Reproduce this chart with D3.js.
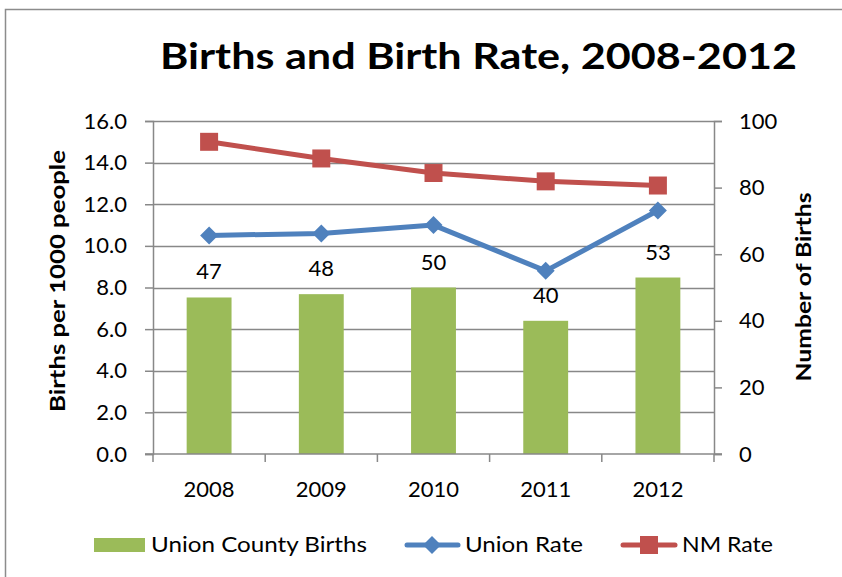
<!DOCTYPE html>
<html>
<head>
<meta charset="utf-8">
<script src="https://cdn.jsdelivr.net/npm/d3@7"></script>
<style>
  body { margin: 0; background: #fff; }
  svg { font-family: Lato, "Open Sans", sans-serif; }
</style>
</head>
<body>
<div id="chart"></div>
<script>
const years = ["2008", "2009", "2010", "2011", "2012"];
const unionBirths = [47, 48, 50, 40, 53];
const unionRate = [10.5, 10.6, 11.0, 8.8, 11.7];
const nmRate = [15.0, 14.2, 13.5, 13.1, 12.9];
const leftTicks = [0, 2, 4, 6, 8, 10, 12, 14, 16];
const rightTicks = [0, 20, 40, 60, 80, 100];

const width = 842, height = 577;
const margin = {top: 121, right: 128, bottom: 123, left: 153};
const w = width - margin.left - margin.right;
const h = height - margin.top - margin.bottom;

const green = "#9BBB59", blue = "#4F81BD", red = "#C0504D", grid = "#888888";

const svg = d3.select("#chart").append("svg")
	.attr("width", width)
	.attr("height", height);

// outer border
svg.append("rect")
	.attr("x", 5.5).attr("y", 9.5)
	.attr("width", 850).attr("height", 600)
	.attr("fill", "none")
	.attr("stroke", "#8c8c8c")
	.attr("stroke-width", 1.5);

svg.append("text")
	.attr("x", 160).attr("y", 69)
	.attr("font-size", "37px")
	.attr("font-weight", "bold")
	.attr("textLength", 637)
	.attr("lengthAdjust", "spacingAndGlyphs")
	.text("Births and Birth Rate, 2008-2012");

const g = svg.append("g")
	.attr("transform", "translate(" + margin.left + "," + margin.top + ")");

const x = d3.scaleBand().domain(years).range([0, w]).paddingInner(0.6).paddingOuter(0.3);
const xc = d3.scalePoint().domain(years).range([0, w]).padding(0.5);
const yL = d3.scaleLinear().domain([0, 16]).range([h, 0]);
const yR = d3.scaleLinear().domain([0, 100]).range([h, 0]);

// gridlines
g.selectAll(".grid")
	.data(leftTicks.filter(d => d > 0))
	.enter().append("line")
	.attr("x1", 0).attr("x2", w)
	.attr("y1", d => Math.round(yL(d)) + 0.5)
	.attr("y2", d => Math.round(yL(d)) + 0.5)
	.attr("stroke", grid)
	.attr("stroke-width", 1.3);

// bars
g.selectAll(".bar")
	.data(unionBirths)
	.enter().append("rect")
	.attr("x", (d, i) => x(years[i]))
	.attr("width", x.bandwidth())
	.attr("y", d => yR(d))
	.attr("height", d => h - yR(d))
	.attr("fill", green);

g.selectAll(".blabel")
	.data(unionBirths)
	.enter().append("text")
	.attr("x", (d, i) => xc(years[i]))
	.attr("y", d => yR(d) - 18)
	.attr("text-anchor", "middle")
	.attr("font-size", "22px")
	.text(d => d);

// axes
const leftAxis = g.append("g")
	.call(d3.axisLeft(yL).tickValues(leftTicks).tickFormat(d3.format(".1f")).tickSize(8).tickPadding(18));
const rightAxis = g.append("g")
	.attr("transform", "translate(" + w + ",0)")
	.call(d3.axisRight(yR).tickValues(rightTicks).tickSize(8).tickPadding(17));
const bottomAxis = g.append("g")
	.attr("transform", "translate(0," + h + ")");
bottomAxis.append("line")
	.attr("x1", -8).attr("x2", w + 8)
	.attr("y1", 0).attr("y2", 0);
bottomAxis.selectAll(".tk")
	.data(d3.range(years.length + 1))
	.enter().append("line")
	.attr("x1", i => i * w / years.length)
	.attr("x2", i => i * w / years.length)
	.attr("y1", 0).attr("y2", 8);
bottomAxis.selectAll(".xl")
	.data(years)
	.enter().append("text")
	.attr("x", d => xc(d))
	.attr("y", 43)
	.attr("text-anchor", "middle")
	.attr("font-size", "22px")
	.text(d => d);
bottomAxis.selectAll("line").attr("stroke", grid).attr("stroke-width", 1.5);

[leftAxis, rightAxis].forEach(a => {
	a.select(".domain").attr("stroke", grid).attr("stroke-width", 1.5);
	a.selectAll(".tick line").attr("stroke", grid).attr("stroke-width", 1.5);
	a.selectAll(".tick text").attr("font-size", "22px").attr("fill", "#000").attr("font-family", "Lato");
});
rightAxis.selectAll(".tick text").attr("text-anchor", "start");

// lines
function drawLine(values, color, shape) {
	const line = d3.line()
		.x((d, i) => xc(years[i]))
		.y(d => yL(d));
	g.append("path")
		.datum(values)
		.attr("d", line)
		.attr("fill", "none")
		.attr("stroke", color)
		.attr("stroke-width", 5)
		.attr("stroke-linejoin", "round");
	g.selectAll(".m-" + color.slice(1))
		.data(values)
		.enter().append("path")
		.attr("transform", (d, i) => "translate(" + xc(years[i]) + "," + yL(d) + ")")
		.attr("d", shape)
		.attr("fill", color);
}
const diamond = "M0,-9L9,0L0,9L-9,0Z";
const square = "M-9,-9H9V9H-9Z";
drawLine(unionRate, blue, diamond);
drawLine(nmRate, red, square);

svg.append("text")
	.attr("transform", "translate(65,281) rotate(-90)")
	.attr("text-anchor", "middle")
	.attr("font-size", "21px")
	.attr("font-weight", "bold")
	.attr("textLength", 262)
	.attr("lengthAdjust", "spacingAndGlyphs")
	.text("Births per 1000 people");
svg.append("text")
	.attr("transform", "translate(811,287) rotate(-90)")
	.attr("text-anchor", "middle")
	.attr("font-size", "21px")
	.attr("font-weight", "bold")
	.attr("textLength", 189)
	.attr("lengthAdjust", "spacingAndGlyphs")
	.text("Number of Births");

// legend
const legend = svg.append("g");
legend.append("rect")
	.attr("x", 94).attr("y", 538)
	.attr("width", 51).attr("height", 14)
	.attr("fill", green);
legend.append("text")
	.attr("x", 151).attr("y", 552)
	.attr("font-size", "21px")
	.attr("textLength", 216)
	.attr("lengthAdjust", "spacingAndGlyphs")
	.text("Union County Births");
legend.append("line")
	.attr("x1", 407).attr("x2", 458).attr("y1", 545).attr("y2", 545)
	.attr("stroke", blue).attr("stroke-width", 5).attr("stroke-linecap", "round");
legend.append("path")
	.attr("transform", "translate(432,545)")
	.attr("d", diamond)
	.attr("fill", blue);
legend.append("text")
	.attr("x", 465).attr("y", 552)
	.attr("font-size", "21px")
	.attr("textLength", 118)
	.attr("lengthAdjust", "spacingAndGlyphs")
	.text("Union Rate");
legend.append("line")
	.attr("x1", 623).attr("x2", 675).attr("y1", 545).attr("y2", 545)
	.attr("stroke", red).attr("stroke-width", 5).attr("stroke-linecap", "round");
legend.append("path")
	.attr("transform", "translate(649,545)")
	.attr("d", square)
	.attr("fill", red);
legend.append("text")
	.attr("x", 682).attr("y", 552)
	.attr("font-size", "21px")
	.attr("textLength", 91)
	.attr("lengthAdjust", "spacingAndGlyphs")
	.text("NM Rate");
</script>
</body>
</html>
